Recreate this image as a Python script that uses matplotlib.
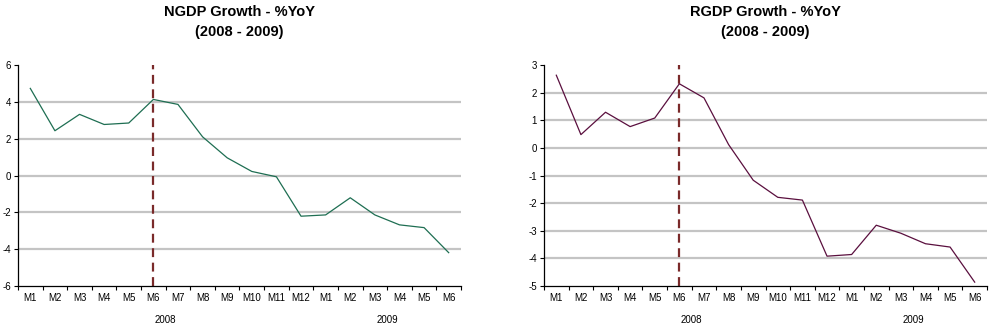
import matplotlib
matplotlib.use("Agg")
import numpy as np
import matplotlib.pyplot as plt
import matplotlib.transforms as mtransforms

plt.rcParams['font.family'] = ['Liberation Sans', 'DejaVu Sans']
plt.rcParams['axes.unicode_minus'] = False

# monthly categories, mid-2008 break at M6
months = ["M1", "M2", "M3", "M4", "M5", "M6", "M7", "M8", "M9", "M10", "M11", "M12",
          "M1", "M2", "M3", "M4", "M5", "M6"]
years = ["2008", "2009"]
year_spans = [(0, 12), (12, 18)]

ngdp = [4.73, 2.43, 3.32, 2.77, 2.85, 4.13, 3.86, 2.10, 0.96, 0.22, -0.07, -2.21,
        -2.14, -1.21, -2.14, -2.68, -2.83, -4.19]
rgdp = [2.63, 0.48, 1.29, 0.77, 1.08, 2.32, 1.81, 0.12, -1.17, -1.79, -1.89, -3.92,
        -3.86, -2.80, -3.09, -3.47, -3.59, -4.86]

marker_idx = 5  # June 2008

fig = plt.figure(figsize=(9.91, 3.27), dpi=100)

panels = [
    ([18 / 991, 41 / 327, 443 / 991, 221 / 327], ngdp, "#1e6e52", (-6, 6), range(-6, 7, 2),
     "NGDP Growth - %YoY\n(2008 - 2009)"),
    ([544 / 991, 41 / 327, 443 / 991, 221 / 327], rgdp, "#5a0f3e", (-5, 3), range(-5, 4),
     "RGDP Growth - %YoY\n(2008 - 2009)"),
]

x = np.arange(len(months))
for rect, vals, color, ylim, yticks, title in panels:
    ax = fig.add_axes(rect)
    for yv in yticks:
        if ylim[0] < yv < ylim[1]:
            ax.axhline(yv, color="#c4c4c4", lw=1.6, zorder=0)
    ax.plot(x, vals, color=color, lw=0.9, zorder=3)
    ax.axvline(marker_idx, color="#7a2a2a", lw=1.6, ls=(0, (4, 2.5)), zorder=2)
    ax.set_xlim(-0.5, len(months) - 0.5)
    ax.set_ylim(*ylim)
    ax.set_yticks(list(yticks))
    ax.tick_params(axis="y", labelsize=7, length=3, width=0.8, pad=2)
    ax.set_xticks(np.arange(-0.5, len(months), 1.0))
    ax.set_xticklabels([])
    ax.tick_params(axis="x", which="major", length=3, width=0.8)
    ax.set_xticks(x, minor=True)
    ax.set_xticklabels(months, minor=True)
    ax.tick_params(axis="x", which="minor", length=0, labelsize=7, pad=5)
    for side in ("top", "right"):
        ax.spines[side].set_visible(False)
    for side in ("left", "bottom"):
        ax.spines[side].set_linewidth(0.9)
    trans = mtransforms.blended_transform_factory(ax.transData, ax.transAxes)
    for yr, (a, b) in zip(years, year_spans):
        ax.text((a + b - 1) / 2, -0.155, yr, transform=trans, ha="center", va="center", fontsize=7)
    fig.text(rect[0] + rect[2] / 2, 1 - 22 / 327, title, ha="center", va="center",
             fontsize=10.5, fontweight="bold", linespacing=1.6,
             family=["Liberation Sans Narrow", "Liberation Sans", "DejaVu Sans"])

fig.savefig("out.png", dpi=100)
